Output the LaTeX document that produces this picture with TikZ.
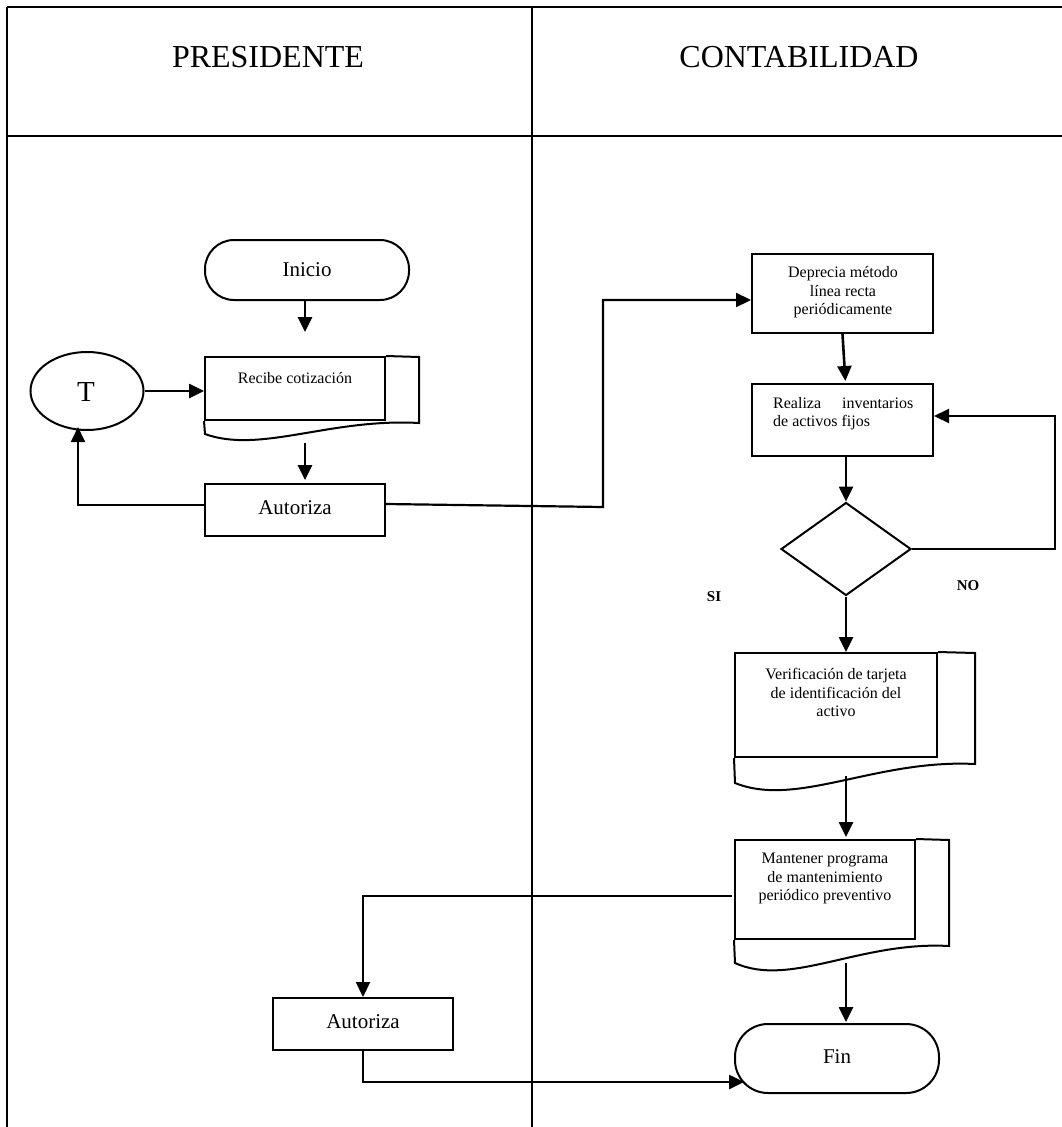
\documentclass[tikz,border=0pt]{standalone}
\usepackage{fontspec}
\setmainfont{Liberation Serif}
\usetikzlibrary{shapes.geometric,arrows.meta,calc}
\begin{document}
\begin{tikzpicture}[x=1pt,y=-1pt,
  outline/.style={draw, line width=2pt},
  procbox/.style={outline, rectangle, inner sep=0pt},
  termbox/.style={outline, rectangle, rounded corners=30pt, inner sep=0pt},
  conn/.style={line width=2.6pt, -{Triangle[length=15pt,width=14pt]}},
  plainline/.style={line width=2pt},
  smalltxt/.style={font=\fontsize{16}{18.5}\selectfont, align=center, inner sep=0pt},
  midtxt/.style={font=\fontsize{21}{24}\selectfont, inner sep=0pt},
  bigtxt/.style={font=\fontsize{32}{36}\selectfont, inner sep=0pt},
  lbltxt/.style={font=\fontsize{15}{17}\selectfont\bfseries, inner sep=0pt},
  tableline/.style={line width=2.6pt},
  tablethin/.style={line width=1.6pt}
]
\useasboundingbox (0,0) rectangle (1062,1127);

% table
\draw[tableline] (7,7) -- (1062,7);
\draw[tableline] (7,136) -- (1062,136);
\draw[line width=2.2pt] (7,7) -- (7,1127);
\draw[tablethin] (532,7) -- (532,1127);
\node[bigtxt] (hpres) at (268,57) {PRESIDENTE};
\node[bigtxt] (hcont) at (799,57) {CONTABILIDAD};

% PRESIDENTE lane
\node[termbox, rounded corners=29pt, minimum width=204pt, minimum height=60pt] (inicio) at (307,270) {};
\node[midtxt] (inicioT) at (307,270) {Inicio};

\node[procbox, minimum width=180pt, minimum height=63pt] (recibe) at (295,388.5) {};
\node[smalltxt] (recibeT) at (295,378) {Recibe cotización};
\draw[plainline] (recibe.north east) -- (419,357) -- (419,423)
  .. controls (330,418) and (260,454) .. (205,434) -- (recibe.south west);

\node[outline, ellipse, minimum width=113pt, minimum height=78pt, inner sep=0pt] (T) at (87,391) {};
\node[font=\fontsize{29}{32}\selectfont, inner sep=0pt] (TT) at (86,392) {T};

\node[procbox, minimum width=180pt, minimum height=52pt] (aut1) at (295,510) {};
\node[midtxt] (aut1T) at (295,508) {Autoriza};

\node[procbox, minimum width=180pt, minimum height=52pt] (aut2) at (363,1024) {};
\node[midtxt] (aut2T) at (363,1022) {Autoriza};

% CONTABILIDAD lane
\node[procbox, minimum width=181pt, minimum height=79pt] (dep) at (842.5,293.5) {};
\node[smalltxt] (depT) at (843,292.5) {Deprecia método\\línea recta\\periódicamente};

\node[procbox, minimum width=181pt, minimum height=72pt] (real) at (842.5,420) {};
\node[smalltxt, align=left, anchor=west] (realT) at (773,413.5)
  {\makebox[140pt][s]{Realiza inventarios}\\de activos fijos};

\node[outline, diamond, minimum width=130pt, minimum height=93pt, inner sep=0pt] (dia) at (846,549) {};
\node[lbltxt] (no) at (968,586) {NO};
\node[lbltxt] (si) at (714,597) {SI};

\node[procbox, minimum width=202pt, minimum height=104pt] (ver) at (836,705) {};
\node[smalltxt] (verT) at (836,692.5) {Verificación de tarjeta\\de identificación del\\activo};
\draw[plainline] (ver.north east) -- (975,653) -- (975,764)
  .. controls (875,759) and (797,808) .. (735,783) -- (ver.south west);

\node[procbox, minimum width=180pt, minimum height=99pt] (man) at (825,889.5) {};
\node[smalltxt] (manT) at (825,878.5) {Mantener programa\\de mantenimiento\\periódico preventivo};
\draw[plainline] (man.north east) -- (949,840) -- (949,946)
  .. controls (860,941) and (790,988) .. (735,963) -- (man.south west);

\node[termbox, rounded corners=33pt, minimum width=204pt, minimum height=69pt] (fin) at (837,1058.5) {};
\node[midtxt] (finT) at (837,1057) {Fin};

% connectors
\coordinate (xa) at (305,0);
\draw[conn, shorten >=24pt] (inicio.south -| xa) -- (xa |- recibe.north);
\draw[conn, shorten <=22pt, shorten >=3pt] (xa |- recibe.south) -- (xa |- aut1.north);
\draw[conn] (T.east) -- (T.east -| recibe.west);

\coordinate (tb) at (78,427);
\draw[conn, line width=2pt] ([yshift=5pt]aut1.west) -| (tb);

\coordinate (j1) at (603,507);
\coordinate (j2) at (603,300);
\draw[conn, line width=2.2pt] ([yshift=6pt]aut1.east) -- (j1) -- (j2) -- (dep.west |- j2);

\draw[conn, shorten >=2pt] (dep.south) -- ([xshift=3pt]real.north);
\draw[conn] (real.south -| dia.north) -- (dia.north);

\coordinate (nr) at (1055,549);
\coordinate (nt) at (1055,416);
\draw[conn, line width=2.2pt] (dia.east) -- (nr) -- (nt) -- (real.east |- nt);

\draw[conn] (dia.south) -- (dia.south |- ver.north);
\coordinate (vs) at (846,776);
\draw[conn, shorten >=2pt] (vs) -- (vs |- man.north);
\coordinate (ms) at (846,963);
\draw[conn, shorten >=1pt] (ms) -- (ms |- fin.north);

\coordinate (ml) at (732,896);
\draw[conn, line width=2.2pt] (ml) -| (aut2.north);

\coordinate (fa) at (744,1082);
\draw[line width=1.6pt] (aut2.south) -- (aut2.south |- fa);
\draw[conn] ([xshift=-0.8pt]aut2.south |- fa) -- (fa);
\end{tikzpicture}
\end{document}
